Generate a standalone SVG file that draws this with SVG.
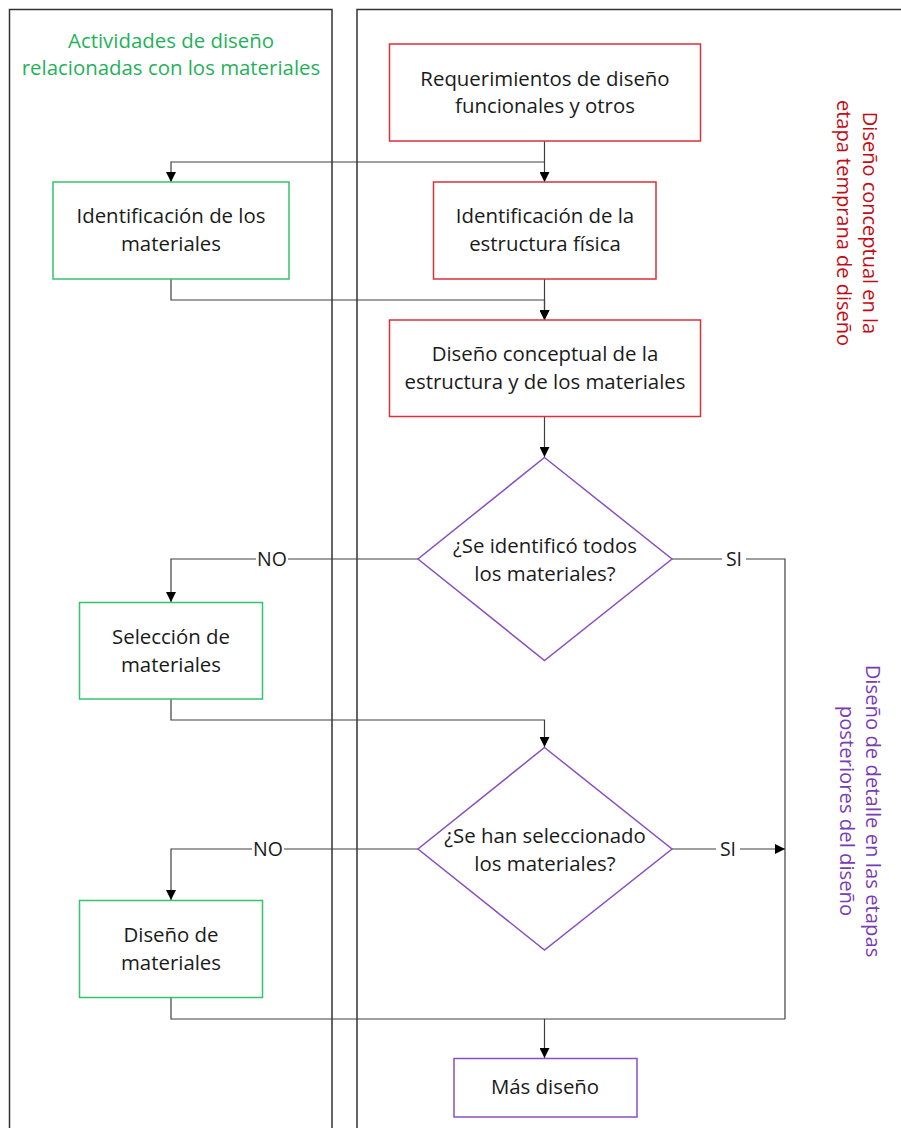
<svg xmlns="http://www.w3.org/2000/svg" width="901" height="1128" viewBox="0 0 901 1128">
  <style>
    .lane { fill: none; stroke: #333333; stroke-width: 1.5; }
    .box-red { fill: #ffffff; stroke: #d9303a; stroke-width: 1.5; }
    .box-green { fill: #ffffff; stroke: #33c46c; stroke-width: 1.5; }
    .box-purple { fill: #ffffff; stroke: #8a4fc0; stroke-width: 1.5; }
    .conn { fill: none; stroke: #404040; stroke-width: 1.2; }
    .arrow { fill: none; stroke: #404040; stroke-width: 1.2; marker-end: url(#head); }
    text { font-family: "Open Sans", "Noto Sans", "Liberation Sans", sans-serif; }
    .t { font-size: 20.4px; fill: #1a1a1a; text-anchor: middle; }
    .lbl { font-size: 19.5px; fill: #1a1a1a; text-anchor: middle; }
    .hdr-green { font-size: 20.4px; fill: #1fb25a; text-anchor: middle; }
    .hdr-red { font-size: 20px; fill: #c40a14; text-anchor: middle; }
    .hdr-purple { font-size: 20.3px; fill: #7a3cb4; text-anchor: middle; }
  </style>
  <defs>
    <marker id="head" viewBox="0 0 10 10" refX="10" refY="5" markerWidth="10" markerHeight="10" markerUnits="userSpaceOnUse" orient="auto">
      <path d="M0,0 L10,5 L0,10 Z" fill="#000000"/>
    </marker>
  </defs>

  <rect width="901" height="1128" fill="#ffffff"/>

  <!-- swimlanes -->
  <g id="lanes">
    <path class="lane" d="M9.5,1130 V9.5 H332 V1130"/>
    <path class="lane" d="M357,1130 V9.5 H902"/>
  </g>

  <!-- lane headings -->
  <g id="heading-materials">
    <text class="hdr-green" x="171" y="48">Actividades de diseño</text>
    <text class="hdr-green" x="171" y="75">relacionadas con los materiales</text>
  </g>
  <g id="heading-early" transform="translate(0,223)">
    <text class="hdr-red" transform="translate(863,0) rotate(90)" x="0" y="0">Diseño conceptual en la</text>
    <text class="hdr-red" transform="translate(837,0) rotate(90)" x="0" y="0">etapa temprana de diseño</text>
  </g>
  <g id="heading-detail" transform="translate(0,811)">
    <text class="hdr-purple" transform="translate(866,0) rotate(90)" x="0" y="0">Diseño de detalle en las etapas</text>
    <text class="hdr-purple" transform="translate(840,0) rotate(90)" x="0" y="0">posteriores del diseño</text>
  </g>

  <!-- connectors -->
  <g id="connectors">
    <path class="arrow" d="M544.5,141 V182"/>
    <path class="arrow" d="M544.5,162 H171 V182"/>
    <path class="arrow" d="M171,279 V300 H544.5 V320"/>
    <path class="arrow" d="M544.5,279 V320"/>
    <path class="arrow" d="M544.5,417 V457"/>
    <path class="arrow" d="M418,559 H171 V602"/>
    <path class="conn" d="M672,559 H785 V1019"/>
    <path class="arrow" d="M171,699 V720 H544.5 V747"/>
    <path class="arrow" d="M418,849 H171 V900"/>
    <path class="arrow" d="M672,849 H785"/>
    <path class="conn" d="M171,998 V1019 H785"/>
    <path class="arrow" d="M544.5,1019 V1058"/>
    <!-- branch labels -->
    <rect x="256" y="548" width="32" height="22" fill="#ffffff"/>
    <text class="lbl" x="272" y="566">NO</text>
    <rect x="722" y="548" width="24" height="22" fill="#ffffff"/>
    <text class="lbl" x="734" y="566">SI</text>
    <rect x="252" y="838" width="32" height="22" fill="#ffffff"/>
    <text class="lbl" x="268" y="856">NO</text>
    <rect x="716" y="838" width="24" height="22" fill="#ffffff"/>
    <text class="lbl" x="728" y="856">SI</text>
  </g>

  <!-- nodes -->
  <g id="requerimientos">
    <rect class="box-red" x="389.5" y="44" width="311" height="97"/>
    <text class="t" x="545" y="86">Requerimientos de diseño</text>
    <text class="t" x="545" y="113">funcionales y otros</text>
  </g>
  <g id="estructura-fisica">
    <rect class="box-red" x="433.5" y="182" width="222.5" height="97"/>
    <text class="t" x="545" y="223">Identificación de la</text>
    <text class="t" x="545" y="251">estructura física</text>
  </g>
  <g id="identificacion-materiales">
    <rect class="box-green" x="53" y="182" width="236" height="97"/>
    <text class="t" x="171" y="223">Identificación de los</text>
    <text class="t" x="171" y="251">materiales</text>
  </g>
  <g id="diseno-conceptual">
    <rect class="box-red" x="389.5" y="320" width="311" height="96.5"/>
    <text class="t" x="545" y="361">Diseño conceptual de la</text>
    <text class="t" x="545" y="389">estructura y de los materiales</text>
  </g>
  <g id="decision-identificados">
    <polygon class="box-purple" points="544.5,457.5 672,559 544.5,660.5 418,559"/>
    <text class="t" x="545" y="553">¿Se identificó todos</text>
    <text class="t" x="545" y="581">los materiales?</text>
  </g>
  <g id="seleccion-materiales">
    <rect class="box-green" x="79.5" y="602.5" width="183" height="96.5"/>
    <text class="t" x="171" y="644">Selección de</text>
    <text class="t" x="171" y="672">materiales</text>
  </g>
  <g id="decision-seleccionados">
    <polygon class="box-purple" points="544.5,747.5 672,849 544.5,950 418,849"/>
    <text class="t" x="545" y="843">¿Se han seleccionado</text>
    <text class="t" x="545" y="871">los materiales?</text>
  </g>
  <g id="diseno-materiales">
    <rect class="box-green" x="79.5" y="900.5" width="183" height="97"/>
    <text class="t" x="171" y="942">Diseño de</text>
    <text class="t" x="171" y="970">materiales</text>
  </g>
  <g id="mas-diseno">
    <rect class="box-purple" x="454" y="1058.5" width="183" height="58.5"/>
    <text class="t" x="545" y="1094">Más diseño</text>
  </g>
</svg>
